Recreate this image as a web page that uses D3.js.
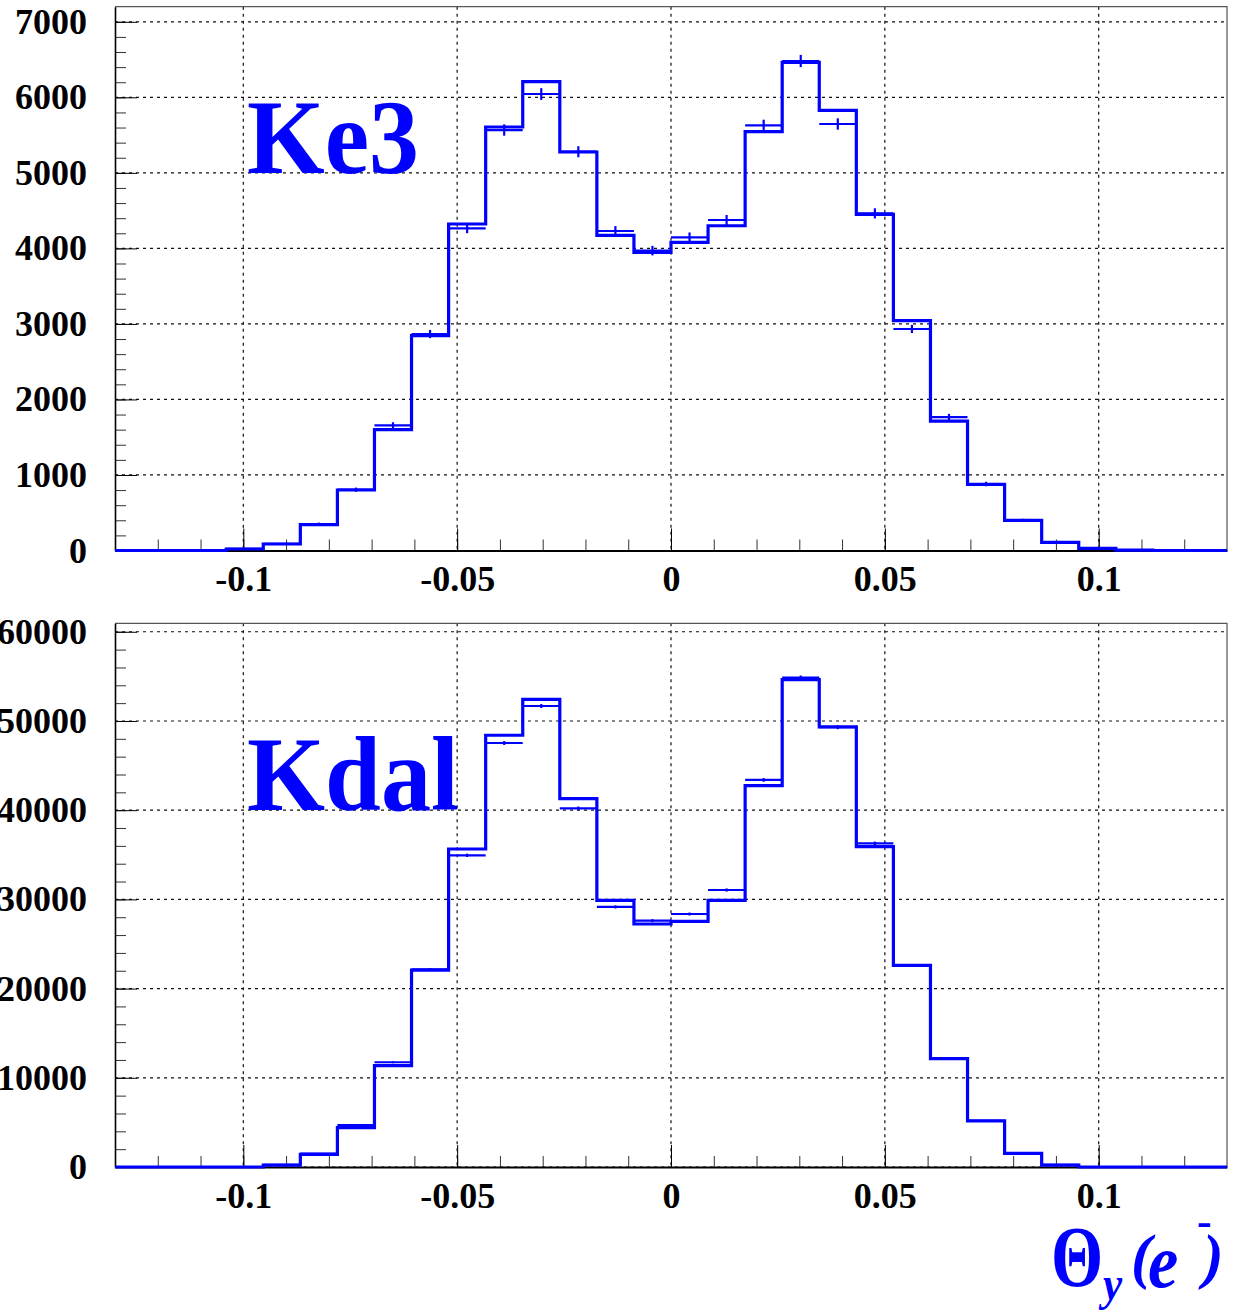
<!DOCTYPE html>
<html>
<head>
<meta charset="utf-8">
<script src="https://cdn.jsdelivr.net/npm/d3@7/dist/d3.min.js"></script>
<style>
  body { margin: 0; background: #fff; }
  svg { display: block; }
  .eje text { font-family: "Liberation Serif", "Times New Roman", serif; font-weight: bold; font-size: 36px; fill: #000; }
  .etiqueta { font-family: "Liberation Serif", "Times New Roman", serif; font-weight: bold; fill: #0000ff; }
</style>
</head>
<body>
<div id="graf"></div>
<script>
// binning del histograma: 30 bins entre -0.13 y 0.13
const binLo = -0.13
const binHi = 0.13
const nBins = 30

const xTicks = [-0.1, -0.05, 0, 0.05, 0.1]
const xTickLabels = ["-0.1", "-0.05", "0", "0.05", "0.1"]

// Ke3: MC (histograma) y datos (puntos con error)
const ke3Mc    = [0, 0, 0, 20, 86, 342, 801, 1600, 2844, 4323, 5607, 6207, 5276, 4173, 3948, 4080, 4300, 5545, 6463, 5828, 4451, 3043, 1714, 876, 400, 108, 29, 5, 0, 0]
const ke3Datos = [0, 0, 0, 22, 88, 350, 805, 1657, 2866, 4266, 5567, 6044, 5280, 4230, 3970, 4147, 4376, 5629, 6481, 5647, 4464, 2933, 1767, 880, 400, 110, 30, 5, 0, 0]
const ke3Err   = [0, 0, 0, 5, 9, 19, 28, 41, 54, 65, 75, 78, 73, 65, 63, 64, 66, 75, 81, 75, 67, 54, 42, 30, 20, 10, 5, 2, 0, 0]
const ke3YTicks = [0, 1000, 2000, 3000, 4000, 5000, 6000, 7000]

// Kdal
const kdalMc    = [0, 0, 0, 0, 220, 1420, 4410, 11360, 22080, 35650, 48400, 52430, 41290, 29900, 27240, 27540, 29900, 42750, 54630, 49330, 35910, 22610, 12140, 5160, 1530, 220, 0, 0, 0, 0]
const kdalDatos = [0, 0, 0, 0, 250, 1500, 4710, 11740, 22150, 34940, 47530, 51680, 40210, 29150, 27620, 28360, 31050, 43390, 54860, 49300, 36290, 22610, 12140, 5160, 1530, 230, 0, 0, 0, 0]
const kdalErr   = [0, 0, 0, 0, 16, 39, 69, 108, 149, 187, 218, 227, 200, 171, 166, 168, 176, 208, 234, 222, 190, 150, 110, 72, 39, 15, 0, 0, 0, 0]
const kdalYTicks = [0, 10000, 20000, 30000, 40000, 50000, 60000]

const anchoTotal = 1233
const altoTotal = 1314
const azul = "#0000ff"

const svg = d3.select("#graf")
  .append("svg")
  .attr("width", anchoTotal)
  .attr("height", altoTotal)

const x = d3.scaleLinear().domain([binLo, binHi]).range([115, 1227])
const anchoBin = (binHi - binLo) / nBins
const bordes = d3.range(nBins + 1).map(i => binLo + i * anchoBin)

// dibuja un panel completo
function panel(cfg) {
  const y = d3.scaleLinear().domain([0, cfg.yMax]).range([cfg.bottom, cfg.top])
  const g = svg.append("g")

  // rejilla punteada
  g.append("g").selectAll("line").data(cfg.yTicks).enter().append("line")
    .attr("x1", 115).attr("x2", 1227)
    .attr("y1", d => y(d)).attr("y2", d => y(d))
    .attr("stroke", "#111").attr("stroke-width", 1.2).attr("stroke-dasharray", "3,4")
  g.append("g").selectAll("line").data(xTicks).enter().append("line")
    .attr("x1", d => x(d)).attr("x2", d => x(d))
    .attr("y1", cfg.top).attr("y2", cfg.bottom)
    .attr("stroke", "#111").attr("stroke-width", 1.2).attr("stroke-dasharray", "3,4")

  // marco superior y derecho
  g.append("path")
    .attr("d", `M115,${cfg.top}H1227V${cfg.bottom}`)
    .attr("fill", "none").attr("stroke", "#555").attr("stroke-width", 1.2)

  // ejes (ticks hacia dentro)
  const menoresY = d3.range(0, cfg.yMax, cfg.yTicks[1] / 5)
  g.append("g").attr("transform", "translate(115,0)")
    .call(d3.axisLeft(y).tickValues(menoresY).tickSize(-11).tickFormat("").tickSizeOuter(0))
    .call(a => a.select(".domain").remove())
    .selectAll("line").attr("stroke", "#333")
  g.append("g").attr("class", "eje").attr("transform", "translate(115,0)")
    .call(d3.axisLeft(y).tickValues(cfg.yTicks).tickSize(-22).tickPadding(28).tickSizeOuter(0).tickFormat(d3.format("d")))
    .call(a => a.select(".domain").attr("stroke-width", 1.6))

  const menoresX = d3.range(-12, 13).map(i => i / 100)
  g.append("g").attr("transform", `translate(0,${cfg.bottom})`)
    .call(d3.axisBottom(x).tickValues(menoresX).tickSize(-11).tickFormat("").tickSizeOuter(0))
    .call(a => a.select(".domain").remove())
    .selectAll("line").attr("stroke", "#333")
  g.append("g").attr("class", "eje").attr("transform", `translate(0,${cfg.bottom})`)
    .call(d3.axisBottom(x).tickValues(xTicks).tickSize(-22).tickPadding(15).tickSizeOuter(0)
      .tickFormat((d, i) => xTickLabels[i]))
    .call(a => a.select(".domain").attr("stroke-width", 2))

  // histograma MC
  const puntos = bordes.map((b, i) => [b, i < nBins ? cfg.mc[i] : cfg.mc[nBins - 1]])
  const linea = d3.line().x(d => x(d[0])).y(d => y(d[1])).curve(d3.curveStepAfter)
  g.append("path")
    .attr("d", linea(puntos))
    .attr("fill", "none").attr("stroke", azul).attr("stroke-width", 3.2)

  // datos con barras de error
  const datos = cfg.datos.map((v, i) => ({ v: v, e: cfg.err[i], i: i })).filter(d => d.v > 0)
  const pts = g.append("g").attr("stroke", azul).attr("stroke-width", 2.2)
  pts.selectAll(".h").data(datos).enter().append("line")
    .attr("x1", d => x(bordes[d.i])).attr("x2", d => x(bordes[d.i + 1]))
    .attr("y1", d => y(d.v)).attr("y2", d => y(d.v))
  pts.selectAll(".v").data(datos).enter().append("line")
    .attr("x1", d => x(bordes[d.i] + anchoBin / 2)).attr("x2", d => x(bordes[d.i] + anchoBin / 2))
    .attr("y1", d => y(d.v - d.e)).attr("y2", d => y(d.v + d.e))

  // nombre del canal
  g.append("text")
    .attr("class", "etiqueta")
    .attr("x", 247).attr("y", cfg.labelY)
    .attr("font-size", 106)
    .attr("textLength", cfg.labelLen).attr("lengthAdjust", "spacingAndGlyphs")
    .text(cfg.label)
}

panel({ top: 6.7, bottom: 550.5, yMax: 7200, yTicks: ke3YTicks, mc: ke3Mc, datos: ke3Datos, err: ke3Err,
        label: "Ke3", labelY: 173, labelLen: 172 })
panel({ top: 623.3, bottom: 1167, yMax: 60950, yTicks: kdalYTicks, mc: kdalMc, datos: kdalDatos, err: kdalErr,
        label: "Kdal", labelY: 810, labelLen: 212 })

// titulo del eje x: Θy(e-)
const tit = svg.append("g").attr("class", "etiqueta")
tit.append("text").attr("transform", "translate(1051,1286) scale(0.78,1)")
  .attr("font-size", 86).text("Θ")
tit.append("text").attr("transform", "translate(1103,1300) scale(0.9,1)")
  .attr("font-size", 48).attr("font-style", "italic").text("y")
tit.append("text").attr("transform", "translate(1131,1277)")
  .attr("font-size", 62).attr("font-style", "italic").text("(")
tit.append("text").attr("transform", "translate(1148,1287) scale(0.9,1)")
  .attr("font-size", 76).attr("font-style", "italic").text("e")
tit.append("text").attr("transform", "translate(1197,1236)")
  .attr("font-size", 44).text("-")
tit.append("text").attr("transform", "translate(1203,1277)")
  .attr("font-size", 62).attr("font-style", "italic").text(")")
</script>
</body>
</html>
